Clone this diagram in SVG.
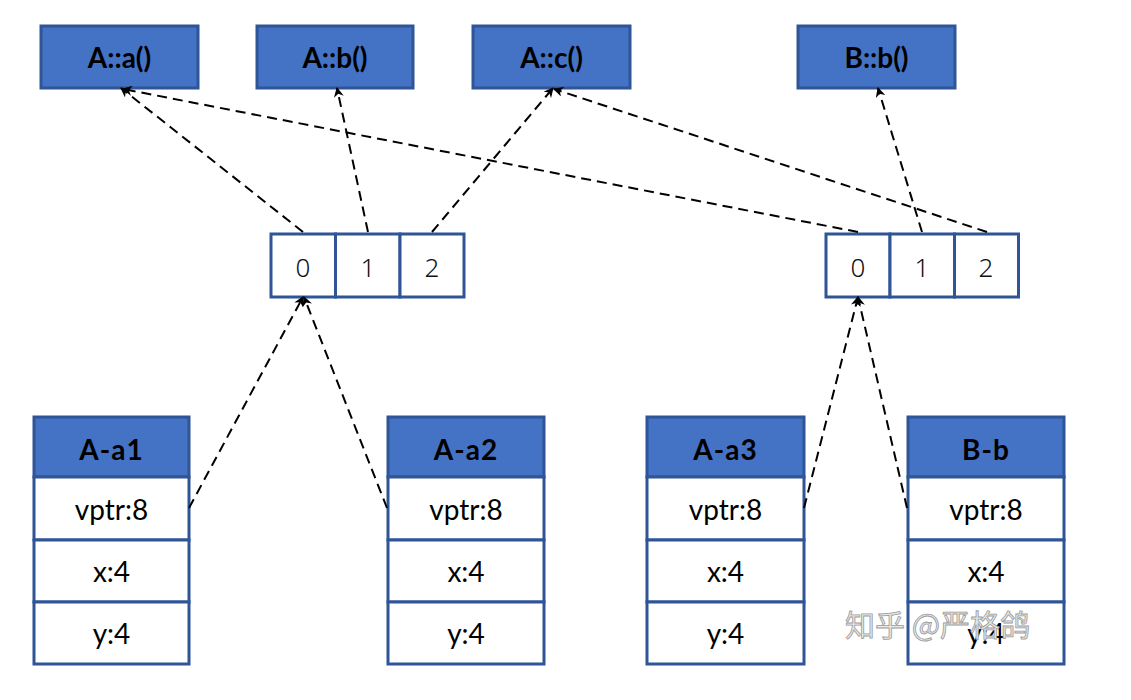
<svg xmlns="http://www.w3.org/2000/svg" width="1131" height="700" viewBox="0 0 1131 700">
<defs>
<marker id="ah" viewBox="0 0 10 10" refX="9" refY="5" markerWidth="5" markerHeight="5" orient="auto" markerUnits="strokeWidth">
<path d="M0,0 L10,5 L0,10 L3,5 z" fill="#000"/>
</marker>
<style>
.fn{fill:#4472C4;stroke:#2F5597;stroke-width:3}
.cell{fill:#fff;stroke:#2F5597;stroke-width:3}
.hd{fill:#4472C4;stroke:#2F5597;stroke-width:3}
.t{font-family:Lato,"Liberation Sans",sans-serif;font-size:28px;fill:#000;text-anchor:middle;dominant-baseline:central}
.b{font-weight:bold}
.h{letter-spacing:1px}
.num{font-family:"Noto Sans","DejaVu Sans",sans-serif;font-weight:300;font-size:26px;fill:#111;text-anchor:middle;dominant-baseline:central}
.c{fill:none;stroke:#000;stroke-width:2;stroke-dasharray:10,6;marker-end:url(#ah)}
.wm{font-family:"Noto Sans CJK SC",sans-serif;font-size:30px;fill:#e8e8e8;stroke:#9a9a9a;stroke-width:0.8}
</style>
</defs>
<rect width="1131" height="700" fill="#fff"/>

<g id="fn-Aa"><rect class="fn" x="41" y="26" width="157" height="62"/><text class="t b" x="119.5" y="57">A::a()</text></g>
<g id="fn-Ab"><rect class="fn" x="257" y="26" width="156" height="62"/><text class="t b" x="335" y="57">A::b()</text></g>
<g id="fn-Ac"><rect class="fn" x="473" y="26" width="157" height="62"/><text class="t b" x="551.5" y="57">A::c()</text></g>
<g id="fn-Bb"><rect class="fn" x="798" y="26" width="157" height="62"/><text class="t b" x="876.5" y="57">B::b()</text></g>

<g id="vtable-A">
<rect class="cell" x="271" y="234" width="64.5" height="63"/>
<rect class="cell" x="335.5" y="234" width="64.5" height="63"/>
<rect class="cell" x="400" y="234" width="64" height="63"/>
<text class="num" x="303" y="267">0</text>
<text class="num" x="368" y="267">1</text>
<text class="num" x="432" y="267">2</text>
</g>
<g id="vtable-B">
<rect class="cell" x="826" y="234" width="64" height="63"/>
<rect class="cell" x="890" y="234" width="64.5" height="63"/>
<rect class="cell" x="954.5" y="234" width="64" height="63"/>
<text class="num" x="858" y="267">0</text>
<text class="num" x="922" y="267">1</text>
<text class="num" x="986" y="267">2</text>
</g>

<g id="obj-a1">
<rect class="hd" x="34" y="417" width="155" height="60"/>
<rect class="cell" x="34" y="477" width="155" height="63"/>
<rect class="cell" x="34" y="540" width="155" height="62"/>
<rect class="cell" x="34" y="602" width="155" height="62"/>
<text class="t b h" x="111.5" y="449">A-a1</text>
<text class="t" x="111.5" y="509">vptr:8</text>
<text class="t" x="111.5" y="571">x:4</text>
<text class="t" x="111.5" y="633">y:4</text>
</g>
<g id="obj-a2">
<rect class="hd" x="388" y="417" width="156" height="60"/>
<rect class="cell" x="388" y="477" width="156" height="63"/>
<rect class="cell" x="388" y="540" width="156" height="62"/>
<rect class="cell" x="388" y="602" width="156" height="62"/>
<text class="t b h" x="466" y="449">A-a2</text>
<text class="t" x="466" y="509">vptr:8</text>
<text class="t" x="466" y="571">x:4</text>
<text class="t" x="466" y="633">y:4</text>
</g>
<g id="obj-a3">
<rect class="hd" x="647" y="417" width="157" height="60"/>
<rect class="cell" x="647" y="477" width="157" height="63"/>
<rect class="cell" x="647" y="540" width="157" height="62"/>
<rect class="cell" x="647" y="602" width="157" height="62"/>
<text class="t b h" x="725.5" y="449">A-a3</text>
<text class="t" x="725.5" y="509">vptr:8</text>
<text class="t" x="725.5" y="571">x:4</text>
<text class="t" x="725.5" y="633">y:4</text>
</g>
<g id="obj-b">
<rect class="hd" x="908" y="417" width="156" height="60"/>
<rect class="cell" x="908" y="477" width="156" height="63"/>
<rect class="cell" x="908" y="540" width="156" height="62"/>
<rect class="cell" x="908" y="602" width="156" height="62"/>
<text class="t b h" x="986" y="449">B-b</text>
<text class="t" x="986" y="509">vptr:8</text>
<text class="t" x="986" y="571">x:4</text>
<text class="t" x="986" y="633">y:4</text>
</g>

<g id="connectors">
<line class="c" x1="303" y1="232" x2="121" y2="88"/>
<line class="c" x1="368" y1="232" x2="337" y2="88"/>
<line class="c" x1="432" y1="232" x2="553" y2="88"/>
<line class="c" x1="858" y1="232" x2="123" y2="89"/>
<line class="c" x1="922" y1="232" x2="878" y2="88"/>
<line class="c" x1="987" y1="232" x2="554" y2="89"/>
<line class="c" x1="189" y1="508" x2="303" y2="297"/>
<line class="c" x1="387" y1="508" x2="304" y2="297"/>
<line class="c" x1="804" y1="508" x2="858" y2="297"/>
<line class="c" x1="907" y1="508" x2="858" y2="297"/>
</g>

<text class="wm" x="845" y="636">知乎 @严格鸽</text>
</svg>
